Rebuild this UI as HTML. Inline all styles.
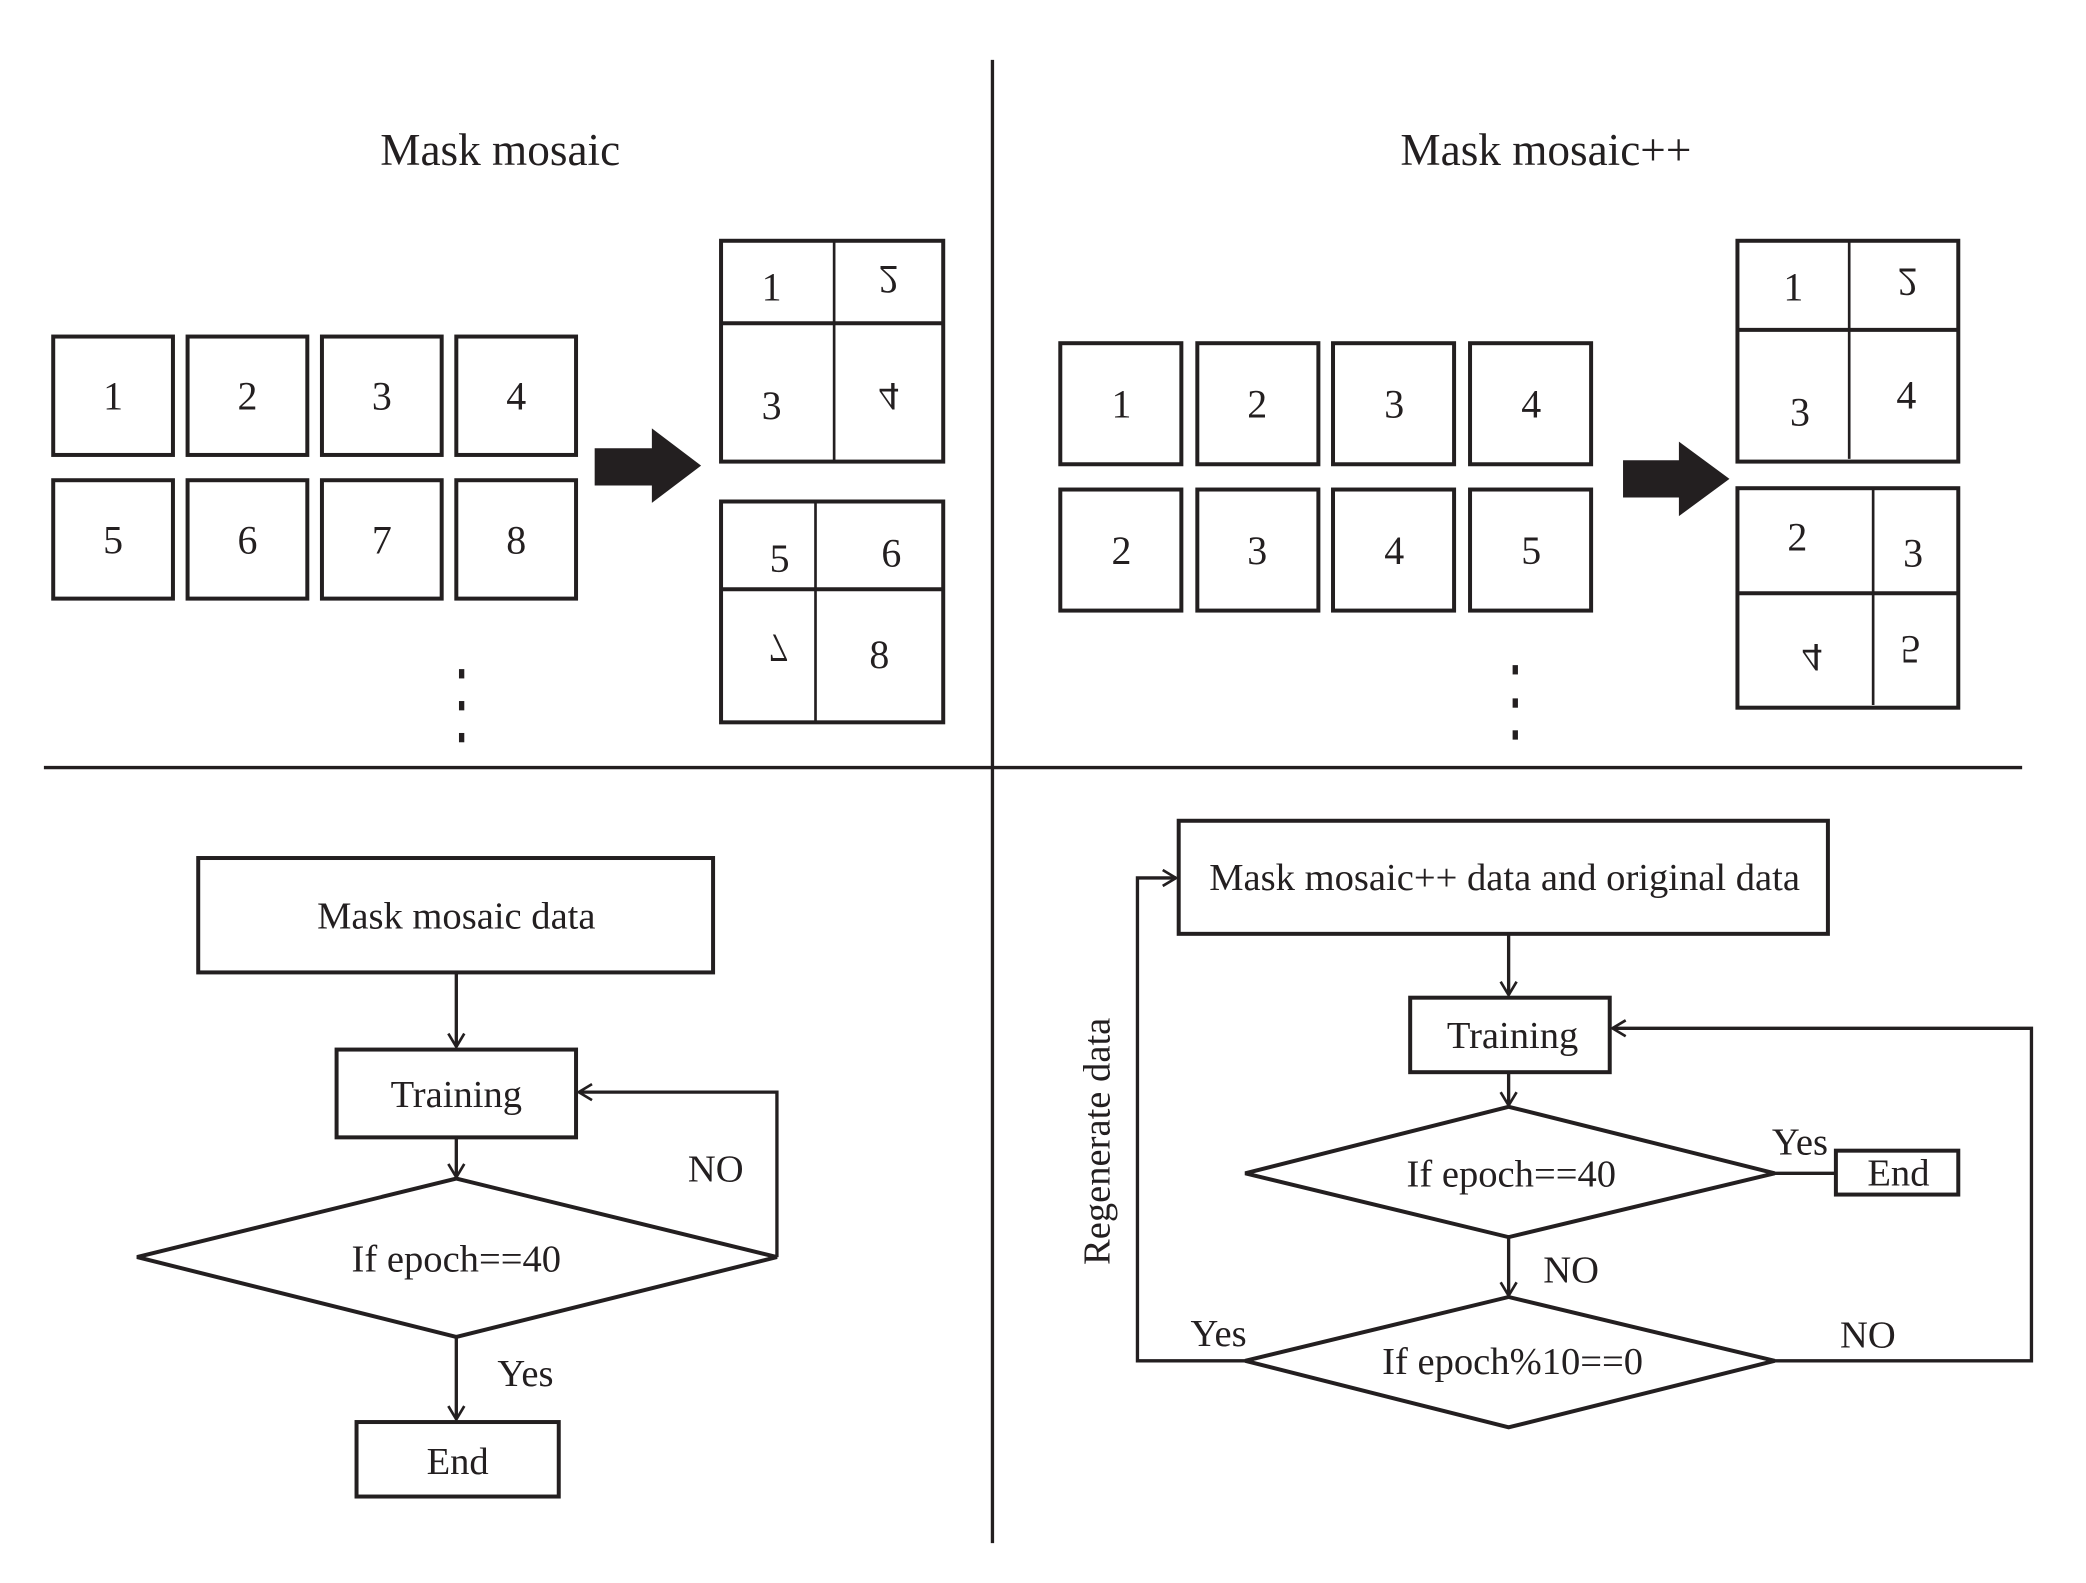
<!DOCTYPE html>
<html><head><meta charset="utf-8"><style>
html,body{margin:0;padding:0;background:#fff;}
svg{display:block;}
text{font-family:"Liberation Serif",serif;fill:#231f20;}
</style></head><body>
<svg width="2086" height="1583" viewBox="0 0 1568 1190" preserveAspectRatio="none" xmlns="http://www.w3.org/2000/svg">
<defs>
<marker id="ah" markerWidth="14" markerHeight="14" refX="11" refY="7" orient="auto" markerUnits="userSpaceOnUse">
<polyline points="1,1 11,7 1,13" fill="none" stroke="#231f20" stroke-width="2"/>
</marker>
</defs>
<g stroke="#231f20" fill="none" stroke-width="2.5">
<line x1="746" y1="45" x2="746" y2="1160"/>
<line x1="33" y1="577" x2="1520" y2="577"/>
</g>
<text x="376" y="124" font-size="34" text-anchor="middle">Mask mosaic</text>
<text x="1162" y="124" font-size="34" text-anchor="middle">Mask mosaic++</text>

<g stroke="#231f20" fill="none" stroke-width="3">
<rect x="40" y="253" width="90" height="89"/><rect x="141" y="253" width="90" height="89"/>
<rect x="242" y="253" width="90" height="89"/><rect x="343" y="253" width="90" height="89"/>
<rect x="40" y="361" width="90" height="89"/><rect x="141" y="361" width="90" height="89"/>
<rect x="242" y="361" width="90" height="89"/><rect x="343" y="361" width="90" height="89"/>
<rect x="542" y="181" width="167" height="166"/><line x1="542" y1="243" x2="709" y2="243"/><line x1="627" y1="181" x2="627" y2="347" stroke-width="2"/>
<rect x="542" y="377" width="167" height="166"/><line x1="542" y1="443" x2="709" y2="443"/><line x1="613" y1="377" x2="613" y2="543" stroke-width="2"/>
</g>
<g font-size="30" text-anchor="middle">
<text x="85" y="308">1</text><text x="186" y="308">2</text><text x="287" y="308">3</text><text x="388" y="308">4</text>
<text x="85" y="416">5</text><text x="186" y="416">6</text><text x="287" y="416">7</text><text x="388" y="416">8</text>
<text x="580" y="226">1</text><text x="580" y="315">3</text>
<text transform="translate(668,200) scale(1,-1)">2</text>
<text transform="translate(668,288) scale(1,-1)">4</text>
<text x="586" y="430">5</text><text x="670" y="426">6</text>
<text transform="translate(585,477) scale(1,-1)">7</text>
<text x="661" y="502">8</text>
</g>
<polygon points="447,337 490,337 490,322 527,350 490,378 490,365 447,365" fill="#231f20"/>
<g fill="#231f20"><rect x="345" y="503" width="4" height="7"/><rect x="345" y="527" width="4" height="7"/><rect x="345" y="551" width="4" height="7"/></g>

<g stroke="#231f20" fill="none" stroke-width="3">
<rect x="797" y="258" width="91" height="91"/><rect x="900" y="258" width="91" height="91"/>
<rect x="1002" y="258" width="91" height="91"/><rect x="1105" y="258" width="91" height="91"/>
<rect x="797" y="368" width="91" height="91"/><rect x="900" y="368" width="91" height="91"/>
<rect x="1002" y="368" width="91" height="91"/><rect x="1105" y="368" width="91" height="91"/>
<rect x="1306" y="181" width="166" height="166"/><line x1="1306" y1="248" x2="1472" y2="248"/><line x1="1390" y1="181" x2="1390" y2="345" stroke-width="2"/>
<rect x="1306" y="367" width="166" height="165"/><line x1="1306" y1="446" x2="1472" y2="446"/><line x1="1408" y1="367" x2="1408" y2="530" stroke-width="2"/>
</g>
<g font-size="30" text-anchor="middle">
<text x="843" y="314">1</text><text x="945" y="314">2</text><text x="1048" y="314">3</text><text x="1151" y="314">4</text>
<text x="843" y="424">2</text><text x="945" y="424">3</text><text x="1048" y="424">4</text><text x="1151" y="424">5</text>
<text x="1348" y="226">1</text><text transform="translate(1434,202) scale(1,-1)">2</text>
<text x="1353" y="320">3</text><text x="1433" y="307">4</text>
<text x="1351" y="414">2</text><text x="1438" y="426">3</text>
<text transform="translate(1362,484) scale(1,-1)">4</text>
<text transform="translate(1436,478) scale(1,-1)">5</text>
</g>
<polygon points="1220,346 1262,346 1262,332 1300,360 1262,388 1262,374 1220,374" fill="#231f20"/>
<g fill="#231f20"><rect x="1137" y="500" width="4" height="7"/><rect x="1137" y="525" width="4" height="7"/><rect x="1137" y="549" width="4" height="7"/></g>

<g stroke="#231f20" fill="none" stroke-width="3">
<rect x="149" y="645" width="387" height="86"/>
<rect x="253" y="789" width="180" height="66"/>
<polygon points="103,945 343,886 584,945 343,1005"/>
<rect x="268" y="1069" width="152" height="56"/>
</g>
<g stroke="#231f20" fill="none" stroke-width="2.5" marker-end="url(#ah)">
<line x1="343" y1="731" x2="343" y2="787"/>
<line x1="343" y1="855" x2="343" y2="885"/>
<polyline points="584,945 584,821 435,821"/>
<line x1="343" y1="1005" x2="343" y2="1067"/>
</g>
<g font-size="29" text-anchor="middle">
<text x="343" y="698">Mask mosaic data</text>
<text x="343" y="832">Training</text>
<text x="343" y="956">If epoch==40</text>
<text x="538" y="888">NO</text>
<text x="395" y="1042">Yes</text>
<text x="344" y="1108">End</text>
</g>

<g stroke="#231f20" fill="none" stroke-width="3">
<rect x="886" y="617" width="488" height="85"/>
<rect x="1060" y="750" width="150" height="56"/>
<polygon points="936,882 1134,832 1334,882 1134,930"/>
<rect x="1380" y="865" width="92" height="33"/>
<polygon points="936,1023 1134,975 1334,1023 1134,1073"/>
</g>
<g stroke="#231f20" fill="none" stroke-width="2.5">
<line x1="1334" y1="882" x2="1380" y2="882"/>
<g marker-end="url(#ah)">
<line x1="1134" y1="702" x2="1134" y2="748"/>
<line x1="1134" y1="806" x2="1134" y2="831"/>
<line x1="1134" y1="930" x2="1134" y2="974"/>
<polyline points="1334,1023 1527,1023 1527,773 1212,773"/>
<polyline points="936,1023 855,1023 855,660 884,660"/>
</g>
</g>
<g font-size="29" text-anchor="middle">
<text x="1131" y="669">Mask mosaic++ data and original data</text>
<text x="1137" y="788">Training</text>
<text x="1136" y="892">If epoch==40</text>
<text x="1353" y="868">Yes</text>
<text x="1427" y="891">End</text>
<text x="1181" y="964">NO</text>
<text x="1137" y="1033">If  epoch%10==0</text>
<text x="1404" y="1013">NO</text>
<text x="916" y="1012">Yes</text>
<text transform="translate(834,858) rotate(-90)">Regenerate data</text>
</g>
</svg>
</body></html>
